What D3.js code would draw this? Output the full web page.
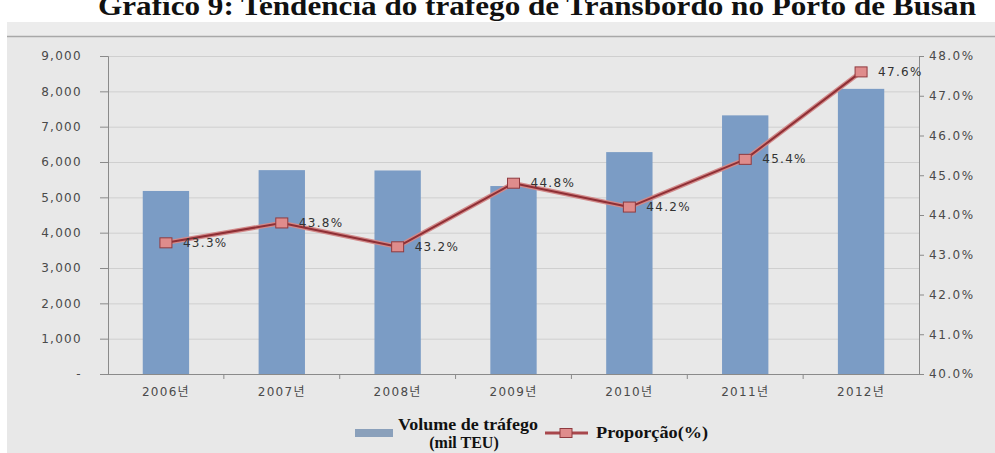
<!DOCTYPE html>
<html>
<head>
<meta charset="utf-8">
<script src="https://cdn.jsdelivr.net/npm/d3@7"></script>
<style>
  html, body { margin: 0; padding: 0; background: #ffffff; }
  svg { display: block; }
</style>
</head>
<body>
<svg id="chart" width="995" height="453"></svg>
<script>
// ---- Data ----
const categories = ["2006년", "2007년", "2008년", "2009년", "2010년", "2011년", "2012년"];
const volumeTEU = [5180, 5770, 5760, 5320, 6280, 7320, 8070];
const proportion = [43.3, 43.8, 43.2, 44.8, 44.2, 45.4, 47.6];
const proportionLabels = ["43.3%", "43.8%", "43.2%", "44.8%", "44.2%", "45.4%", "47.6%"];
const leftTicks = [0, 1000, 2000, 3000, 4000, 5000, 6000, 7000, 8000, 9000];
const rightTicks = [40, 41, 42, 43, 44, 45, 46, 47, 48];
const titleText = "Gráfico 9: Tendência do tráfego de Transbordo no Porto de Busan";
const legendBarLabel = ["Volume de tráfego", "(mil TEU)"];
const legendLineLabel = "Proporção(%)";

// ---- Layout ----
const W = 995, H = 453;
const plot = { left: 108, right: 919, top: 56, bottom: 374 };
const svg = d3.select("#chart");

// background
svg.append("rect").attr("x", 7).attr("y", 22).attr("width", W - 7).attr("height", H - 22).attr("fill", "#e8e8e8");
svg.append("rect").attr("x", 7).attr("y", 22).attr("width", W - 7).attr("height", 14).attr("fill", "#ececec");
svg.append("line").attr("x1", 7).attr("x2", W).attr("y1", 36.5).attr("y2", 36.5)
  .attr("stroke", "#a8a8a8").attr("stroke-width", 1.5);

// title (cut off at the top, as in the reference)
svg.append("text").attr("x", 537).attr("y", 15)
  .attr("text-anchor", "middle")
  .attr("font-family", "'Liberation Serif', 'DejaVu Serif', serif")
  .attr("font-weight", "bold").attr("font-size", 28)
  .attr("textLength", 878).attr("lengthAdjust", "spacingAndGlyphs")
  .attr("fill", "#111").text(titleText);

// ---- Scales ----
const x = d3.scaleBand().domain(categories).range([plot.left, plot.right]).paddingInner(0.6).paddingOuter(0.3);
const xBoundary = d3.scaleBand().domain(categories).range([plot.left, plot.right]).padding(0);
const yL = d3.scaleLinear().domain([0, 9000]).range([plot.bottom, plot.top]);
const yR = d3.scaleLinear().domain([40, 48]).range([plot.bottom, plot.top]);

const tickFont = "'DejaVu Sans', 'Noto Sans CJK KR', sans-serif";

// gridlines
svg.append("g").selectAll("line").data(leftTicks.filter(d => d > 0)).join("line")
  .attr("x1", plot.left).attr("x2", plot.right)
  .attr("y1", d => yL(d) + 0.5).attr("y2", d => yL(d) + 0.5)
  .attr("stroke", "#cfcfcf").attr("stroke-width", 1);

// bars
svg.append("g").selectAll("rect").data(categories).join("rect")
  .attr("x", d => x(d))
  .attr("width", x.bandwidth())
  .attr("y", (d, i) => yL(volumeTEU[i]))
  .attr("height", (d, i) => plot.bottom - yL(volumeTEU[i]))
  .attr("fill", "#7b9cc5");

// left axis
const gL = svg.append("g").attr("transform", `translate(${plot.left},0)`)
  .call(d3.axisLeft(yL).tickValues(leftTicks).tickSize(8).tickPadding(18)
    .tickFormat(d => d === 0 ? "-" : d3.format(",")(d)));
gL.select(".domain").attr("stroke", "#8a8a8a");
gL.selectAll(".tick line").attr("stroke", "#8a8a8a");
gL.selectAll("text").attr("font-family", tickFont).attr("font-size", 12)
  .attr("letter-spacing", "1.3px").attr("fill", "#4a4a4a");

// right axis
const gR = svg.append("g").attr("transform", `translate(${plot.right},0)`)
  .call(d3.axisRight(yR).tickValues(rightTicks).tickSize(5).tickPadding(5)
    .tickFormat(d => d3.format(".1f")(d) + "%"));
gR.select(".domain").attr("stroke", "#8a8a8a");
gR.selectAll(".tick line").attr("stroke", "#8a8a8a");
gR.selectAll("text").attr("font-family", tickFont).attr("font-size", 12)
  .attr("letter-spacing", "1.5px").attr("fill", "#4a4a4a");

// bottom axis
const gB = svg.append("g").attr("transform", `translate(0,${plot.bottom})`);
gB.append("line").attr("x1", plot.left).attr("x2", plot.right).attr("y1", 0.5).attr("y2", 0.5)
  .attr("stroke", "#8a8a8a");
gB.selectAll("line.tk").data(categories.slice(1)).join("line").attr("class", "tk")
  .attr("x1", d => xBoundary(d)).attr("x2", d => xBoundary(d)).attr("y1", 0).attr("y2", 5)
  .attr("stroke", "#8a8a8a");
gB.selectAll("text").data(categories).join("text")
  .attr("x", d => xBoundary(d) + xBoundary.bandwidth() / 2)
  .attr("y", 22)
  .attr("text-anchor", "middle")
  .attr("font-family", tickFont).attr("font-size", 12).attr("letter-spacing", "1.3px")
  .attr("fill", "#4a4a4a").text(d => d);

// line
const pts = categories.map((c, i) => [x(c) + x.bandwidth() / 2, yR(proportion[i])]);
const lineGen = d3.line();
svg.append("path").attr("d", lineGen(pts)).attr("fill", "none")
  .attr("stroke", "#d28a8a").attr("stroke-width", 4.5).attr("stroke-linejoin", "round");
svg.append("path").attr("d", lineGen(pts)).attr("fill", "none")
  .attr("stroke", "#8f2f35").attr("stroke-width", 2).attr("stroke-linejoin", "round");

// markers
svg.append("g").selectAll("rect").data(pts).join("rect")
  .attr("x", d => d[0] - 6).attr("y", d => d[1] - 5)
  .attr("width", 12).attr("height", 10)
  .attr("fill", "#df8c8c").attr("stroke", "#8f3a3f").attr("stroke-width", 1);

// data labels
svg.append("g").selectAll("text").data(pts).join("text")
  .attr("x", d => d[0] + 17).attr("y", d => d[1] + 4)
  .attr("font-family", tickFont).attr("font-size", 12).attr("letter-spacing", "1.3px")
  .attr("fill", "#333").text((d, i) => proportionLabels[i]);

// ---- Legend ----
const lg = svg.append("g");
const serif = "'Liberation Serif', 'DejaVu Serif', serif";
lg.append("rect").attr("x", 355).attr("y", 429).attr("width", 38).attr("height", 8).attr("fill", "#8aa0bb");
lg.append("text").attr("x", 468).attr("y", 430).attr("text-anchor", "middle")
  .attr("font-family", serif).attr("font-weight", "bold").attr("font-size", 16)
  .attr("textLength", 140).attr("lengthAdjust", "spacingAndGlyphs")
  .attr("fill", "#111").text(legendBarLabel[0]);
lg.append("text").attr("x", 464).attr("y", 448).attr("text-anchor", "middle")
  .attr("font-family", serif).attr("font-weight", "bold").attr("font-size", 16)
  .attr("fill", "#111").text(legendBarLabel[1]);
lg.append("line").attr("x1", 545).attr("x2", 588).attr("y1", 433).attr("y2", 433)
  .attr("stroke", "#a8474c").attr("stroke-width", 3);
lg.append("rect").attr("x", 560).attr("y", 428.5).attr("width", 12).attr("height", 9)
  .attr("fill", "#df8c8c").attr("stroke", "#8f3a3f").attr("stroke-width", 1);
lg.append("text").attr("x", 596).attr("y", 438)
  .attr("font-family", serif).attr("font-weight", "bold").attr("font-size", 16)
  .attr("textLength", 112).attr("lengthAdjust", "spacingAndGlyphs")
  .attr("fill", "#111").text(legendLineLabel);
</script>
</body>
</html>
